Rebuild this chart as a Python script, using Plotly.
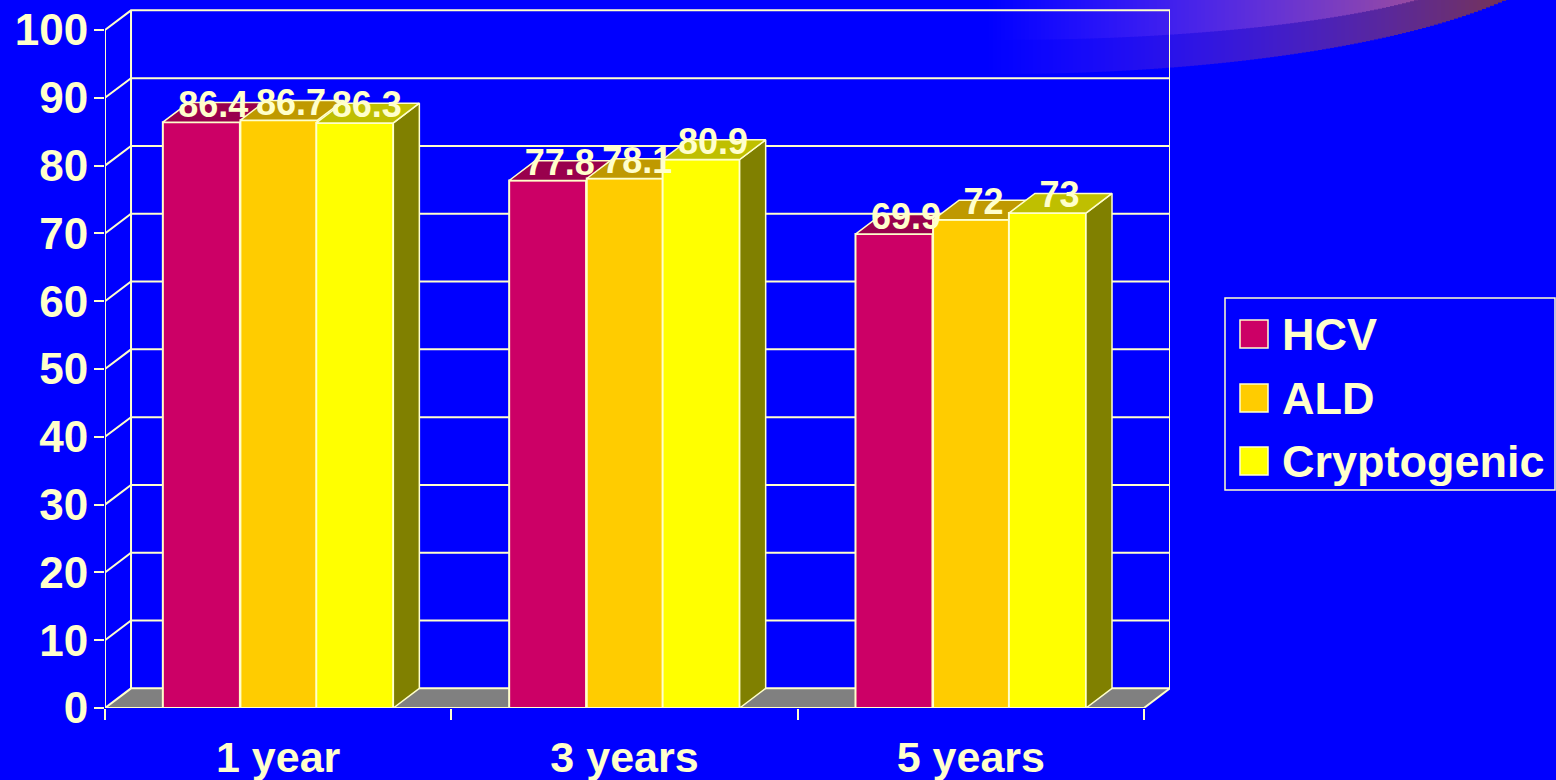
import math
import plotly.graph_objects as go

# Survival percentages per period and aetiology
categories = ["1 year", "3 years", "5 years"]
hcv = [86.4, 77.8, 69.9]
ald = [86.7, 78.1, 72]
cryptogenic = [86.3, 80.9, 73]
y_ticks = [0, 10, 20, 30, 40, 50, 60, 70, 80, 90, 100]

CREAM = "#FFFFCC"
BLUE = "#0000FF"
FONT = "Liberation Sans"
W, H = 1556, 780
LEFT, RIGHT, TOP, BOTTOM = 105, 1170, 9, 708

# Extrusion of the pseudo-3D boxes, in axis units
DX = 26 / 346
DY = 2.9
BAR_W = 77 / 346
X_RANGE = [-0.5, 2.5 + DX]
Y_RANGE = [0, (BOTTOM - TOP) / 6.78]

series = [
    ("HCV", hcv, -0.333, "#CC0066", "#99004D", "#660033", "2"),
    ("ALD", ald, -0.109, "#FFCC00", "#BF9900", "#806600", "3"),
    ("Cryptogenic", cryptogenic, 0.110, "#FFFF00", "#BFBF00", "#808000", "4"),
]


def px_x(px):
    return (px - LEFT) / (RIGHT - LEFT)


def px_y(px):
    return (BOTTOM - px) / (BOTTOM - TOP)


def polygons(quads):
    xs, ys = [], []
    for quad in quads:
        xs += [p[0] for p in quad] + [quad[0][0], None]
        ys += [p[1] for p in quad] + [quad[0][1], None]
    return xs, ys


def shade(end, t):
    # Red and green climb steadily while the blue only fades towards the far end
    return "rgb(%d,%d,%d)" % (round(end[0] * t), round(end[1] * t),
                              round(255 + (end[2] - 255) * t * t))


fig = go.Figure()

# Decorative swoosh in the top corner, built from thin vertical slices
shapes = []
ARC_LEFT, ARC_RIGHT = 985, 1510
for cy, b, a, end in (
    (-71.7, 145.7, 580, (118, 52, 82)),
    (-50, 90, 500, (185, 92, 112)),
):
    x = ARC_LEFT
    while x < ARC_RIGHT:
        d = (x + 2 - 1000) / a
        edge = cy + b * math.sqrt(max(0, 1 - d * d))
        if edge > 0:
            t = (x - ARC_LEFT) / (ARC_RIGHT - ARC_LEFT)
            shapes.append(dict(
                type="rect", layer="below", xref="paper", yref="paper",
                x0=px_x(x), x1=px_x(x + 5), y0=px_y(edge), y1=px_y(-1),
                fillcolor=shade(end, t), line=dict(width=0),
            ))
        x += 4

# Floor of the chart box
fx, fy = polygons([[(-0.5, 0), (-0.5 + DX, DY), (2.5 + DX, DY), (2.5, 0)]])
fig.add_trace(go.Scatter(x=fx, y=fy, mode="lines", fill="toself", fillcolor="#808080",
                         line=dict(width=0), hoverinfo="skip", showlegend=False))

# Back wall grid, side wall diagonals, and the front axis lines
lx, ly = [], []
for v in y_ticks:
    lx += [-0.5, -0.5 + DX, 2.5 + DX, None]
    ly += [v, v + DY, v + DY, None]
lx += [-0.5 + DX, -0.5 + DX, None, 2.5 + DX, 2.5 + DX, None, 2.5, 2.5 + DX, None,
       -0.5, -0.5, None, -0.5, 2.5, None]
ly += [DY, 100 + DY, None, DY, 100 + DY, None, 0, DY, None,
       0, 100, None, 0, 0, None]
fig.add_trace(go.Scatter(x=lx, y=ly, mode="lines", line=dict(color=CREAM, width=2),
                         cliponaxis=False, hoverinfo="skip", showlegend=False))

# One overlaid subplot per series so that later boxes paint over earlier ones
label_x, label_y, label_text = [], [], []
for name, values, offset, front, top, side, suffix in series:
    xa, ya = "x" + suffix, "y" + suffix
    fig.add_trace(go.Bar(
        x=[0, 1, 2], y=values, name=name, width=BAR_W, offset=offset,
        marker=dict(color=front, line=dict(color=CREAM, width=2)),
        xaxis=xa, yaxis=ya, showlegend=False,
    ))
    side_quads, top_quads = [], []
    for i, v in enumerate(values):
        x0 = i + offset
        x1 = x0 + BAR_W
        side_quads.append([(x1, 0), (x1 + DX, DY), (x1 + DX, v + DY), (x1, v)])
        top_quads.append([(x0, v), (x1, v), (x1 + DX, v + DY), (x0 + DX, v + DY)])
        label_x.append(x0 + BAR_W / 2 + DX * 0.46)
        label_y.append(v + DY - 0.75)
        label_text.append(f"{v:g}")
    for quads, color in ((side_quads, side), (top_quads, top)):
        qx, qy = polygons(quads)
        fig.add_trace(go.Scatter(
            x=qx, y=qy, mode="lines", fill="toself", fillcolor=color,
            line=dict(color=CREAM, width=1.5), xaxis=xa, yaxis=ya,
            hoverinfo="skip", showlegend=False,
        ))

# Value labels stay above every box
fig.add_trace(go.Scatter(
    x=label_x, y=label_y, text=label_text, mode="text", textposition="middle center",
    textfont=dict(family=FONT, size=36, color=CREAM, weight=700),
    xaxis="x4", yaxis="y4", hoverinfo="skip", showlegend=False, cliponaxis=False,
))

# Legend panel
shapes.append(dict(type="rect", xref="paper", yref="paper", layer="above",
                   x0=px_x(1225), x1=px_x(1555), y0=px_y(490), y1=px_y(298),
                   fillcolor=BLUE, line=dict(color=CREAM, width=1.5)))
annotations = []
for (name, _, _, front, *_), row_y in zip(series, (334, 398, 461)):
    shapes.append(dict(type="rect", xref="paper", yref="paper", layer="above",
                       x0=px_x(1240), x1=px_x(1268), y0=px_y(row_y + 14), y1=px_y(row_y - 14),
                       fillcolor=front, line=dict(color=CREAM, width=1.5)))
    annotations.append(dict(xref="paper", yref="paper", x=px_x(1281), y=px_y(row_y),
                            xanchor="left", yanchor="middle", text=name, showarrow=False,
                            borderpad=0,
                            font=dict(family=FONT, size=45, color=CREAM, weight=700)))

layout_axes = {}
for suffix in ("2", "3", "4"):
    layout_axes["xaxis" + suffix] = dict(range=X_RANGE, overlaying="x", visible=False, fixedrange=True)
    layout_axes["yaxis" + suffix] = dict(range=Y_RANGE, overlaying="y", visible=False, fixedrange=True)

fig.update_layout(
    width=W, height=H,
    margin=dict(l=LEFT, r=W - RIGHT, t=TOP, b=H - BOTTOM, pad=0),
    paper_bgcolor=BLUE, plot_bgcolor="rgba(0,0,0,0)",
    barmode="overlay", showlegend=False,
    shapes=shapes, annotations=annotations,
    xaxis=dict(
        range=X_RANGE, showgrid=False, zeroline=False, showline=False, automargin=False,
        tickmode="array", tickvals=[0, 1, 2], ticktext=categories, ticks="",
        ticklabelstandoff=20,
        tickfont=dict(family=FONT, size=43, color=CREAM, weight=700),
        minor=dict(tickmode="array", tickvals=[-0.5, 0.5, 1.5, 2.5], ticks="outside",
                   ticklen=11, tickwidth=2, tickcolor=CREAM, showgrid=False),
        fixedrange=True,
    ),
    yaxis=dict(
        range=Y_RANGE, showgrid=False, zeroline=False, showline=False, automargin=False,
        tickmode="array", tickvals=y_ticks, ticks="outside", ticklen=10,
        tickwidth=2, tickcolor=CREAM, ticklabelstandoff=-3,
        tickfont=dict(family=FONT, size=44, color=CREAM, weight=700),
        fixedrange=True,
    ),
    **layout_axes,
)

fig.write_html("out.html", config=dict(displayModeBar=False))
